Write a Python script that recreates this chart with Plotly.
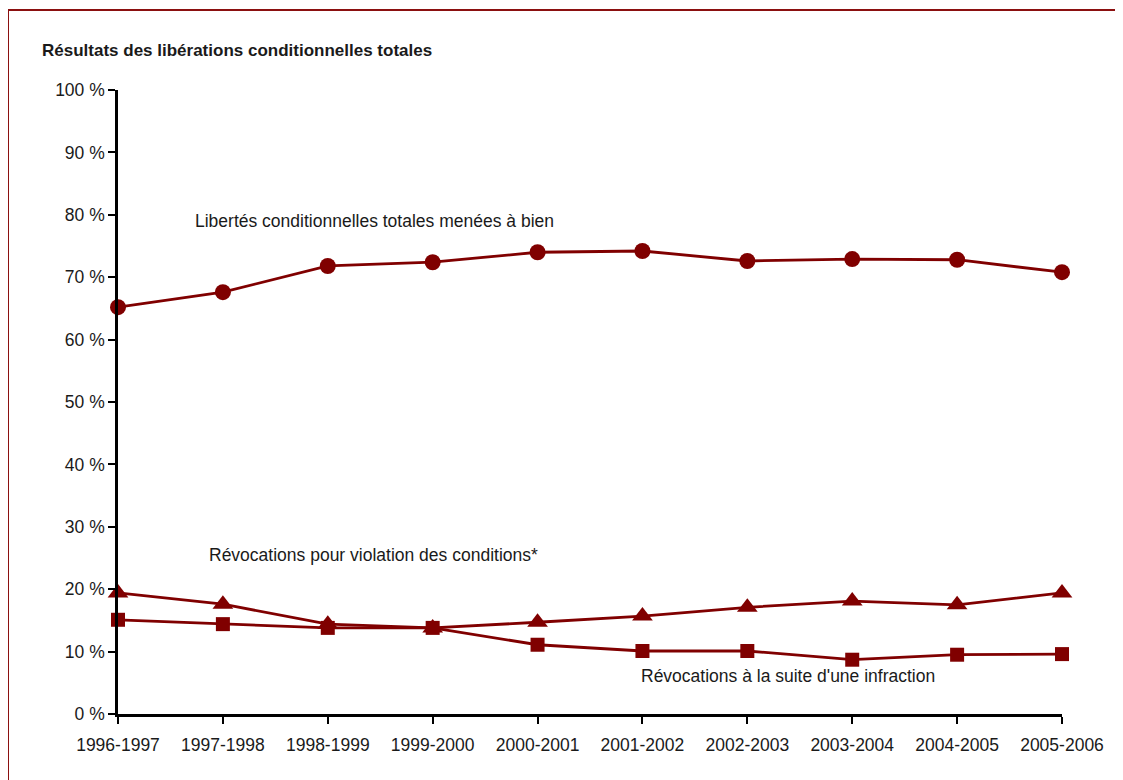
import plotly.graph_objects as go

categories = ["1996-1997", "1997-1998", "1998-1999", "1999-2000", "2000-2001",
              "2001-2002", "2002-2003", "2003-2004", "2004-2005", "2005-2006"]
menees = [65.2, 67.6, 71.8, 72.4, 74.0, 74.2, 72.6, 72.9, 72.8, 70.8]
violation = [19.4, 17.6, 14.4, 13.8, 14.7, 15.7, 17.1, 18.1, 17.5, 19.4]
infraction = [15.1, 14.4, 13.8, 13.8, 11.1, 10.1, 10.1, 8.7, 9.5, 9.6]
y_ticks = [0, 10, 20, 30, 40, 50, 60, 70, 80, 90, 100]
y_labels = [f"{v} %" for v in y_ticks]

COLOR = "#800000"
FONT = "Liberation Sans, Arial, sans-serif"
TXT = "#1a1a1a"
xs = list(range(len(categories)))

fig = go.Figure()
fig.add_trace(go.Scatter(x=xs, y=menees, mode="lines+markers",
                         line=dict(color=COLOR, width=2.8),
                         marker=dict(symbol="circle", size=16, color=COLOR),
                         cliponaxis=False))
fig.add_trace(go.Scatter(x=xs, y=violation, mode="lines+markers",
                         line=dict(color=COLOR, width=2.8),
                         marker=dict(symbol="triangle-up", size=18, color=COLOR),
                         cliponaxis=False))
fig.add_trace(go.Scatter(x=xs, y=infraction, mode="lines+markers",
                         line=dict(color=COLOR, width=2.8),
                         marker=dict(symbol="square", size=14, color=COLOR),
                         cliponaxis=False))

# page has an 8px body margin, so the figure is offset by 8px
fig.update_layout(
    width=1123, height=780,
    margin=dict(l=110, r=69, t=82, b=74),
    paper_bgcolor="white", plot_bgcolor="white",
    showlegend=False,
    font=dict(family=FONT, size=17.5, color=TXT),
    xaxis=dict(range=[0, 9], tickvals=xs, ticktext=categories,
               showgrid=False, zeroline=False, showline=True,
               linecolor="black", linewidth=2.5,
               ticks="outside", ticklen=7, tickwidth=2, tickcolor="black",
               ticklabelstandoff=6,
               tickfont=dict(family=FONT, size=17.5, color=TXT)),
    yaxis=dict(range=[0, 100], tickvals=y_ticks, ticktext=y_labels,
               showgrid=False, zeroline=False, showline=True,
               linecolor="black", linewidth=2.5,
               ticks="outside", ticklen=7, tickwidth=2, tickcolor="black",
               tickfont=dict(family=FONT, size=17.5, color=TXT)),
)

fig.add_annotation(text="<b>Résultats des libérations conditionnelles totales</b>",
                   xref="paper", yref="paper", x=(40 - 118) / 944, y=(714 - 50) / 624,
                   xanchor="left", yanchor="middle", showarrow=False,
                   font=dict(family=FONT, size=17, color=TXT))
fig.add_annotation(text="Libertés conditionnelles totales menées à bien",
                   xref="paper", yref="paper", x=(193 - 118) / 944, y=(714 - 221) / 624,
                   xanchor="left", yanchor="middle", showarrow=False,
                   font=dict(family=FONT, size=17.5, color=TXT))
fig.add_annotation(text="Révocations pour violation des conditions*",
                   xref="paper", yref="paper", x=(207 - 118) / 944, y=(714 - 555) / 624,
                   xanchor="left", yanchor="middle", showarrow=False,
                   font=dict(family=FONT, size=17.5, color=TXT))
fig.add_annotation(text="Révocations à la suite d'une infraction",
                   xref="paper", yref="paper", x=(639 - 118) / 944, y=(714 - 676) / 624,
                   xanchor="left", yanchor="middle", showarrow=False,
                   font=dict(family=FONT, size=17.5, color=TXT))

# red frame (left and top edges)
left_x = (8 - 118) / 944
top_y = (714 - 10) / 624
fig.add_shape(type="line", xref="paper", yref="paper",
              x0=left_x, x1=left_x, y0=-0.2, y1=top_y,
              line=dict(color="#8B1010", width=2))
fig.add_shape(type="line", xref="paper", yref="paper",
              x0=left_x, x1=1.2, y0=top_y, y1=top_y,
              line=dict(color="#8B1010", width=2))

fig.write_html("out.html")
